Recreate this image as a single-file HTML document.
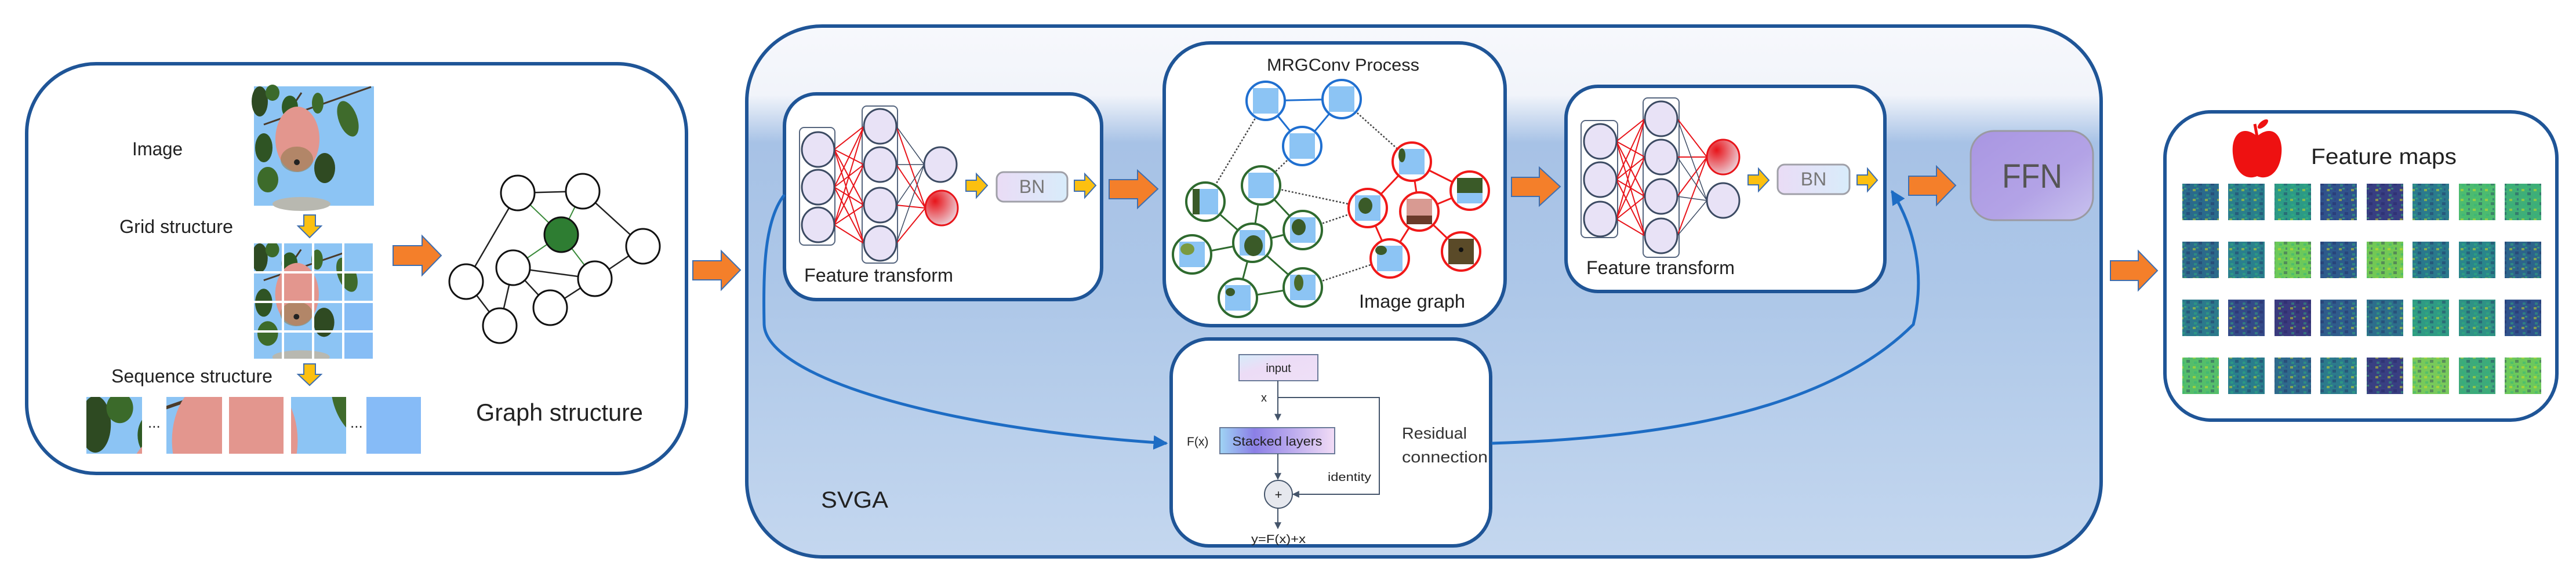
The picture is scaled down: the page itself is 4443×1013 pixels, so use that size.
<!DOCTYPE html>
<html><head><meta charset="utf-8"><style>
html,body{margin:0;padding:0;background:#fff;width:4443px;height:1013px;overflow:hidden;}
svg{display:block;}
text{font-family:"Liberation Sans",sans-serif;fill:#222;}
</style></head><body>
<svg width="4443" height="1013" viewBox="0 0 4443 1013" xmlns="http://www.w3.org/2000/svg" style="overflow:hidden">
<defs>
<linearGradient id="svga" x1="0" y1="0" x2="0" y2="1">
<stop offset="0" stop-color="#f7f8fc"/><stop offset="0.13" stop-color="#f1f4fa"/>
<stop offset="0.22" stop-color="#a7c2e6"/><stop offset="0.5" stop-color="#adc7e8"/>
<stop offset="1" stop-color="#c4d7ef"/></linearGradient>
<radialGradient id="redn" cx="0.3" cy="0.3" r="0.8"><stop offset="0" stop-color="#e8141a"/><stop offset="1" stop-color="#ecd6de"/></radialGradient>
<linearGradient id="bn" x1="0" y1="0" x2="1" y2="0"><stop offset="0" stop-color="#eadcf6"/><stop offset="1" stop-color="#d8ecfa"/></linearGradient>
<linearGradient id="ffn" x1="0" y1="0" x2="1" y2="1"><stop offset="0" stop-color="#a996e2"/><stop offset="0.6" stop-color="#b3a3e6"/><stop offset="1" stop-color="#c8c2ee"/></linearGradient>
<linearGradient id="inp" x1="0" y1="0" x2="1" y2="1"><stop offset="0" stop-color="#d6ecfa"/><stop offset="0.4" stop-color="#ecdcf6"/><stop offset="1" stop-color="#efe0f7"/></linearGradient>
<linearGradient id="stk" x1="0" y1="0" x2="1" y2="0"><stop offset="0" stop-color="#9fd4f4"/><stop offset="0.3" stop-color="#8b7fe6"/><stop offset="1" stop-color="#f2dcf6"/></linearGradient>
<pattern id="noise" width="21" height="17" patternUnits="userSpaceOnUse">
<rect x="2" y="3" width="5" height="4" fill="#d8e219" opacity="0.5"/><rect x="12" y="9" width="6" height="5" fill="#1f1d5a" opacity="0.35"/><rect x="8" y="1" width="4" height="3" fill="#3fbf70" opacity="0.5"/><rect x="15" y="2" width="3" height="4" fill="#2a3a80" opacity="0.4"/><rect x="4" y="12" width="5" height="4" fill="#2fb47c" opacity="0.45"/></pattern>
<marker id="ah" viewBox="0 0 10 10" refX="9" refY="5" markerWidth="5" markerHeight="5" orient="auto"><path d="M0,0 L10,5 L0,10 Z" fill="#1d6cc4"/></marker>
<marker id="ah2" viewBox="0 0 10 10" refX="9" refY="5" markerWidth="6" markerHeight="6" orient="auto"><path d="M0,0 L10,5 L0,10 Z" fill="#44546a"/></marker>
<g id="photo">
<rect x="438" y="149" width="207" height="206" fill="#8cc4f4"/>
<path d="M455,215 L640,150" stroke="#4a3a2a" stroke-width="3"/>
<path d="M480,220 L520,160" stroke="#4a3a2a" stroke-width="3"/>
<ellipse cx="448" cy="175" rx="14" ry="26" fill="#2e4a22"/>
<ellipse cx="470" cy="160" rx="12" ry="14" fill="#3b6a2a"/>
<ellipse cx="500" cy="185" rx="14" ry="20" fill="#2e5a24"/>
<ellipse cx="548" cy="178" rx="10" ry="18" fill="#3d6b2a"/>
<ellipse cx="600" cy="205" rx="16" ry="32" fill="#3f6b2c" transform="rotate(-20 600 205)"/>
<ellipse cx="455" cy="255" rx="15" ry="25" fill="#2f5424"/>
<ellipse cx="462" cy="310" rx="18" ry="22" fill="#3d6b2a"/>
<ellipse cx="560" cy="290" rx="18" ry="26" fill="#2f4a22"/>
<ellipse cx="513" cy="240" rx="38" ry="56" fill="#e3968e"/>
<ellipse cx="512" cy="275" rx="28" ry="22" fill="#8a7a48" opacity="0.55"/>
<circle cx="512" cy="280" r="5" fill="#222"/>
<ellipse cx="520" cy="352" rx="50" ry="12" fill="#b8b8b0"/>
</g>
</defs>

<!-- LEFT BOX -->
<rect x="46" y="110" width="1138" height="707" rx="120" fill="#fff" stroke="#1f5597" stroke-width="6"/>
<text x="228" y="268" font-size="32" textLength="87" lengthAdjust="spacingAndGlyphs">Image</text>
<use href="#photo"/>
<text x="206" y="402" font-size="32" textLength="196" lengthAdjust="spacingAndGlyphs">Grid structure</text>
<path d="M524,371 H544 V390 H554 L534,410 L514,390 H524Z" fill="#fcc010" stroke="#3f6fb0" stroke-width="2"/>
<svg x="438" y="420" width="205" height="199" viewBox="438 149 207 206" preserveAspectRatio="none"><use href="#photo"/></svg>
<g fill="#fff"><rect x="486" y="420" width="4" height="199"/><rect x="538" y="420" width="4" height="199"/><rect x="590" y="420" width="4" height="199"/>
<rect x="438" y="468" width="205" height="4"/><rect x="438" y="519" width="205" height="4"/><rect x="438" y="570" width="205" height="4"/></g>
<rect x="594" y="420" width="49" height="48" fill="#8cc4f4"/><rect x="594" y="523" width="49" height="47" fill="#86bdf5"/><rect x="594" y="574" width="49" height="45" fill="#86bdf5"/>
<text x="192" y="660" font-size="32" textLength="278" lengthAdjust="spacingAndGlyphs">Sequence structure</text>
<path d="M524,628 H544 V646 H554 L534,665 L514,646 H524Z" fill="#fcc010" stroke="#3f6fb0" stroke-width="2"/>
<svg x="149" y="685" width="96" height="98" viewBox="440 150 50 52" preserveAspectRatio="none"><use href="#photo"/></svg>
<text x="255" y="738" font-size="26">...</text>
<svg x="287" y="685" width="96" height="98" viewBox="470 200 50 52" preserveAspectRatio="none"><use href="#photo"/></svg>
<svg x="395" y="685" width="94" height="98" viewBox="488 200 50 52" preserveAspectRatio="none"><use href="#photo"/></svg>
<svg x="502" y="685" width="95" height="98" viewBox="545 200 50 52" preserveAspectRatio="none"><use href="#photo"/></svg>
<text x="604" y="738" font-size="26">...</text>
<rect x="632" y="685" width="94" height="98" fill="#86bbf7"/>
<path d="M678,424 H728 V407 L761,441 L728,475 V458 H678Z" fill="#f47f2a" stroke="#3f6fb0" stroke-width="2"/>
<!-- graph -->
<g stroke="#222" stroke-width="2.5">
<line x1="893" y1="333" x2="1005" y2="330"/><line x1="893" y1="333" x2="804" y2="486"/>
<line x1="1005" y1="330" x2="1109" y2="425"/><line x1="1109" y1="425" x2="1026" y2="481"/>
<line x1="885" y1="462" x2="1026" y2="481"/><line x1="885" y1="462" x2="862" y2="562"/>
<line x1="885" y1="462" x2="949" y2="531"/><line x1="804" y1="486" x2="862" y2="562"/>
<line x1="949" y1="531" x2="1026" y2="481"/></g>
<g stroke="#3a8a3a" stroke-width="2">
<line x1="893" y1="333" x2="968" y2="405"/><line x1="1005" y1="330" x2="968" y2="405"/>
<line x1="885" y1="462" x2="968" y2="405"/><line x1="1026" y1="481" x2="968" y2="405"/></g>
<g fill="#fff" stroke="#111" stroke-width="3">
<ellipse cx="893" cy="333" rx="29" ry="30"/><ellipse cx="1005" cy="330" rx="29" ry="30"/>
<ellipse cx="1109" cy="425" rx="29" ry="30"/><ellipse cx="885" cy="462" rx="29" ry="30"/>
<ellipse cx="804" cy="486" rx="29" ry="30"/><ellipse cx="1026" cy="481" rx="29" ry="30"/>
<ellipse cx="949" cy="531" rx="29" ry="30"/><ellipse cx="862" cy="562" rx="29" ry="30"/>
<ellipse cx="968" cy="405" rx="29" ry="30" fill="#2e7d32"/></g>
<text x="821" y="726" font-size="42" textLength="288" lengthAdjust="spacingAndGlyphs">Graph structure</text>
<path d="M1195,450 H1244 V433 L1277,466 L1244,500 V483 H1195Z" fill="#f47f2a" stroke="#3f6fb0" stroke-width="2"/>

<!-- SVGA -->
<rect x="1288" y="45" width="2336" height="916" rx="130" fill="url(#svga)" stroke="#1f5597" stroke-width="6"/>
<text x="1416" y="876" font-size="40" textLength="116" lengthAdjust="spacingAndGlyphs">SVGA</text>

<!-- FT box 1 -->
<rect x="1353" y="162" width="547" height="355" rx="55" fill="#fff" stroke="#1f5597" stroke-width="6"/>
<rect x="1379" y="220" width="61" height="203" rx="8" fill="none" stroke="#55657e" stroke-width="2"/>
<rect x="1487" y="183" width="61" height="271" rx="8" fill="none" stroke="#55657e" stroke-width="2"/>
<g stroke="#e8141a" stroke-width="2">
<path d="M1439,258 L1490,218 M1439,258 L1490,284 M1439,258 L1490,354 M1439,258 L1490,420 M1439,323 L1490,218 M1439,323 L1490,284 M1439,323 L1490,354 M1439,323 L1490,420 M1439,388 L1490,218 M1439,388 L1490,284 M1439,388 L1490,354 M1439,388 L1490,420"/>
<path d="M1546,218 L1596,359 M1546,284 L1596,359 M1546,354 L1596,359 M1546,420 L1596,359"/></g>
<g stroke="#3c4b63" stroke-width="1.5"><path d="M1546,218 L1594,284 M1546,284 L1594,284 M1546,354 L1594,284 M1546,420 L1594,284"/></g>
<g fill="#e8e2f6" stroke="#3c4b63" stroke-width="3">
<ellipse cx="1411" cy="258" rx="28" ry="30"/><ellipse cx="1411" cy="323" rx="28" ry="30"/><ellipse cx="1411" cy="388" rx="28" ry="30"/>
<ellipse cx="1518" cy="218" rx="28" ry="30"/><ellipse cx="1518" cy="284" rx="28" ry="30"/><ellipse cx="1518" cy="354" rx="28" ry="30"/><ellipse cx="1518" cy="420" rx="28" ry="30"/>
<ellipse cx="1622" cy="284" rx="28" ry="30"/></g>
<ellipse cx="1624" cy="359" rx="28" ry="30" fill="url(#redn)" stroke="#e8141a" stroke-width="3"/>
<path d="M1666,311 H1684 V300 L1703,320 L1684,341 V330 H1666Z" fill="#fcc010" stroke="#3f6fb0" stroke-width="2"/>
<rect x="1719" y="297" width="122" height="51" rx="12" fill="url(#bn)" stroke="#a0a0a8" stroke-width="3"/>
<text x="1780" y="333" font-size="32" text-anchor="middle" style="fill:#777">BN</text>
<path d="M1853,311 H1871 V300 L1890,320 L1871,341 V330 H1853Z" fill="#fcc010" stroke="#3f6fb0" stroke-width="2"/>
<text x="1387" y="486" font-size="32" textLength="257" lengthAdjust="spacingAndGlyphs">Feature transform</text>
<path d="M1913,310 H1962 V294 L1997,326 L1962,359 V343 H1913Z" fill="#f47f2a" stroke="#3f6fb0" stroke-width="2"/>

<!-- MRGConv -->
<rect x="2008" y="74" width="588" height="488" rx="80" fill="#fff" stroke="#1f5597" stroke-width="6"/>
<text x="2185" y="122" font-size="30" textLength="263" lengthAdjust="spacingAndGlyphs">MRGConv Process</text>
<g stroke="#444" stroke-width="2.5" stroke-dasharray="3,3">
<line x1="2183" y1="174" x2="2079" y2="348"/><line x1="2314" y1="171" x2="2435" y2="279"/>
<line x1="2246" y1="252" x2="2175" y2="320"/><line x1="2175" y1="320" x2="2359" y2="359"/>
<line x1="2247" y1="397" x2="2359" y2="359"/><line x1="2247" y1="496" x2="2397" y2="446"/></g>
<g stroke="#1f6fd0" stroke-width="3"><line x1="2183" y1="174" x2="2314" y2="171"/><line x1="2183" y1="174" x2="2246" y2="252"/><line x1="2314" y1="171" x2="2246" y2="252"/></g>
<g stroke="#2e6a2e" stroke-width="3">
<line x1="2079" y1="348" x2="2160" y2="419"/><line x1="2175" y1="320" x2="2160" y2="419"/><line x1="2175" y1="320" x2="2247" y2="397"/>
<line x1="2247" y1="397" x2="2160" y2="419"/><line x1="2056" y1="439" x2="2160" y2="419"/><line x1="2135" y1="514" x2="2160" y2="419"/>
<line x1="2247" y1="496" x2="2160" y2="419"/><line x1="2135" y1="514" x2="2247" y2="496"/></g>
<g stroke="#f01818" stroke-width="3">
<line x1="2435" y1="279" x2="2359" y2="359"/><line x1="2435" y1="279" x2="2535" y2="329"/><line x1="2435" y1="279" x2="2448" y2="365"/>
<line x1="2359" y1="359" x2="2397" y2="446"/><line x1="2448" y1="365" x2="2397" y2="446"/><line x1="2448" y1="365" x2="2535" y2="329"/><line x1="2448" y1="365" x2="2520" y2="434"/></g>
<g stroke-width="4" fill="#fff">
<g stroke="#1f6fd0"><circle cx="2183" cy="174" r="33"/><circle cx="2314" cy="171" r="33"/><circle cx="2246" cy="252" r="33"/></g>
<g stroke="#2e6a2e"><circle cx="2079" cy="348" r="33"/><circle cx="2175" cy="320" r="33"/><circle cx="2247" cy="397" r="33"/><circle cx="2160" cy="419" r="33"/><circle cx="2056" cy="439" r="33"/><circle cx="2135" cy="514" r="33"/><circle cx="2247" cy="496" r="33"/></g>
<g stroke="#f01818"><circle cx="2435" cy="279" r="33"/><circle cx="2535" cy="329" r="33"/><circle cx="2359" cy="359" r="33"/><circle cx="2448" cy="365" r="33"/><circle cx="2397" cy="446" r="33"/><circle cx="2520" cy="434" r="33"/></g></g>
<g fill="#8cc4f4">
<rect x="2161" y="152" width="44" height="44"/><rect x="2292" y="149" width="44" height="44"/><rect x="2224" y="230" width="44" height="44"/>
<rect x="2057" y="326" width="44" height="44"/><rect x="2153" y="298" width="44" height="44"/><rect x="2225" y="375" width="44" height="44"/><rect x="2138" y="397" width="44" height="44"/><rect x="2034" y="417" width="44" height="44"/><rect x="2113" y="492" width="44" height="44"/><rect x="2225" y="474" width="44" height="44"/>
<rect x="2413" y="257" width="44" height="44"/><rect x="2513" y="307" width="44" height="44"/><rect x="2337" y="337" width="44" height="44"/><rect x="2375" y="424" width="44" height="44"/></g>
<g fill="#3a5a28">
<rect x="2057" y="326" width="12" height="44"/><ellipse cx="2162" cy="424" rx="16" ry="18"/><ellipse cx="2048" cy="430" rx="12" ry="10" fill="#7a9a40"/><ellipse cx="2240" cy="488" rx="8" ry="14" fill="#4a6a2a"/><ellipse cx="2122" cy="504" rx="8" ry="7"/>
<ellipse cx="2240" cy="392" rx="12" ry="14"/><ellipse cx="2418" cy="268" rx="6" ry="12"/><ellipse cx="2355" cy="355" rx="12" ry="14"/><ellipse cx="2382" cy="432" rx="10" ry="8"/>
<rect x="2513" y="307" width="44" height="26"/><rect x="2498" y="412" width="44" height="44" fill="#5a4a28"/></g>
<rect x="2426" y="343" width="44" height="44" fill="#d89a92"/><rect x="2426" y="372" width="44" height="15" fill="#6a3a2a"/>
<circle cx="2520" cy="431" r="4" fill="#111"/>
<text x="2344" y="531" font-size="32" textLength="183" lengthAdjust="spacingAndGlyphs">Image graph</text>
<path d="M2607,306 H2655 V289 L2691,322 L2655,355 V339 H2607Z" fill="#f47f2a" stroke="#3f6fb0" stroke-width="2"/>

<!-- Residual box -->
<rect x="2020" y="585" width="551" height="357" rx="65" fill="#fff" stroke="#1f5597" stroke-width="6"/>
<rect x="2137" y="612" width="136" height="45" fill="url(#inp)" stroke="#6a7a98" stroke-width="2"/>
<text x="2205" y="642" font-size="20" text-anchor="middle">input</text>
<text x="2175" y="693" font-size="20">x</text>
<line x1="2204" y1="657" x2="2204" y2="725" stroke="#44546a" stroke-width="2" marker-end="url(#ah2)"/>
<path d="M2204,686 H2379 V853 H2230" fill="none" stroke="#44546a" stroke-width="2" marker-end="url(#ah2)"/>
<rect x="2104" y="738" width="198" height="45" fill="url(#stk)" stroke="#6a7a98" stroke-width="2"/>
<text x="2203" y="769" font-size="22" text-anchor="middle" textLength="155" lengthAdjust="spacingAndGlyphs">Stacked layers</text>
<text x="2047" y="769" font-size="21">F(x)</text>
<line x1="2204" y1="783" x2="2204" y2="827" stroke="#44546a" stroke-width="2" marker-end="url(#ah2)"/>
<circle cx="2205" cy="853" r="24" fill="#e6e8ee" stroke="#44546a" stroke-width="2"/>
<text x="2205" y="861" font-size="22" text-anchor="middle">+</text>
<line x1="2204" y1="877" x2="2204" y2="912" stroke="#44546a" stroke-width="2" marker-end="url(#ah2)"/>
<text x="2158" y="937" font-size="20" textLength="94" lengthAdjust="spacingAndGlyphs">y=F(x)+x</text>
<text x="2290" y="830" font-size="20" textLength="75" lengthAdjust="spacingAndGlyphs">identity</text>
<text x="2418" y="757" font-size="28" textLength="112" lengthAdjust="spacingAndGlyphs" style="fill:#333">Residual</text>
<text x="2418" y="798" font-size="28" textLength="148" lengthAdjust="spacingAndGlyphs" style="fill:#333">connection</text>

<!-- FT box 2 -->
<rect x="2701" y="149" width="550" height="354" rx="55" fill="#fff" stroke="#1f5597" stroke-width="6"/>
<rect x="2727" y="208" width="63" height="202" rx="8" fill="none" stroke="#55657e" stroke-width="2"/>
<rect x="2834" y="169" width="62" height="275" rx="8" fill="none" stroke="#55657e" stroke-width="2"/>
<g stroke="#e8141a" stroke-width="2">
<path d="M2788,244 L2837,205 M2788,244 L2837,271 M2788,244 L2837,339 M2788,244 L2837,407 M2788,310 L2837,205 M2788,310 L2837,271 M2788,310 L2837,339 M2788,310 L2837,407 M2788,378 L2837,205 M2788,378 L2837,271 M2788,378 L2837,339 M2788,378 L2837,407"/>
<path d="M2893,205 L2944,271 M2893,271 L2944,271 M2893,339 L2944,271 M2893,407 L2944,271"/></g>
<g stroke="#3c4b63" stroke-width="1.5"><path d="M2893,205 L2944,346 M2893,271 L2944,346 M2893,339 L2944,346 M2893,407 L2944,346"/></g>
<g fill="#e8e2f6" stroke="#3c4b63" stroke-width="3">
<ellipse cx="2760" cy="244" rx="28" ry="30"/><ellipse cx="2760" cy="310" rx="28" ry="30"/><ellipse cx="2760" cy="378" rx="28" ry="30"/>
<ellipse cx="2865" cy="205" rx="28" ry="30"/><ellipse cx="2865" cy="271" rx="28" ry="30"/><ellipse cx="2865" cy="339" rx="28" ry="30"/><ellipse cx="2865" cy="407" rx="28" ry="30"/>
<ellipse cx="2972" cy="346" rx="28" ry="30"/></g>
<ellipse cx="2972" cy="271" rx="28" ry="30" fill="url(#redn)" stroke="#e8141a" stroke-width="3"/>
<path d="M3015,302 H3033 V291 L3051,311 L3033,330 V319 H3015Z" fill="#fcc010" stroke="#3f6fb0" stroke-width="2"/>
<rect x="3066" y="284" width="124" height="51" rx="12" fill="url(#bn)" stroke="#a0a0a8" stroke-width="3"/>
<text x="3128" y="320" font-size="32" text-anchor="middle" style="fill:#777">BN</text>
<path d="M3203,302 H3221 V291 L3238,311 L3221,330 V319 H3203Z" fill="#fcc010" stroke="#3f6fb0" stroke-width="2"/>
<text x="2736" y="473" font-size="32" textLength="256" lengthAdjust="spacingAndGlyphs">Feature transform</text>
<path d="M3292,304 H3340 V287 L3373,320 L3340,354 V337 H3292Z" fill="#f47f2a" stroke="#3f6fb0" stroke-width="2"/>
<rect x="3399" y="226" width="211" height="154" rx="40" fill="url(#ffn)" stroke="#9a9aa2" stroke-width="3"/>
<text x="3505" y="324" font-size="58" text-anchor="middle" textLength="104" lengthAdjust="spacingAndGlyphs" style="fill:#555">FFN</text>

<path d="M1353,336 C1318,380 1316,470 1318,560 C1322,650 1620,740 2012,765" fill="none" stroke="#1d6cc4" stroke-width="5" marker-end="url(#ah)"/>
<path d="M2573,765 C2900,755 3160,700 3300,560 C3322,470 3300,390 3263,330" fill="none" stroke="#1d6cc4" stroke-width="5" marker-end="url(#ah)"/>

<path d="M3640,450 H3688 V433 L3721,467 L3688,501 V484 H3640Z" fill="#f47f2a" stroke="#3f6fb0" stroke-width="2"/>

<!-- Feature maps -->
<rect x="3734" y="193" width="676" height="532" rx="80" fill="#fff" stroke="#1f5597" stroke-width="6"/>
<path d="M3893,235 C3868,214 3848,232 3851,265 C3854,298 3874,312 3893,304 C3912,312 3932,298 3935,265 C3938,232 3918,214 3893,235Z" fill="#ee1111"/>
<path d="M3893,236 L3889,214" stroke="#ee1111" stroke-width="5"/>
<ellipse cx="3903" cy="214" rx="11" ry="5" fill="#ee1111" transform="rotate(-40 3903 214)"/>
<text x="3986" y="283" font-size="38" textLength="251" lengthAdjust="spacingAndGlyphs">Feature maps</text>
<g>
<rect x="3764" y="317" width="63" height="63" fill="#2a6a8c"/><rect x="3843" y="317" width="63" height="63" fill="#2a7e8c"/><rect x="3923" y="317" width="63" height="63" fill="#2c9a86"/><rect x="4002" y="317" width="63" height="63" fill="#30528c"/><rect x="4082" y="317" width="63" height="63" fill="#383e82"/><rect x="4161" y="317" width="63" height="63" fill="#2b7a8d"/><rect x="4241" y="317" width="63" height="63" fill="#4cbb70"/><rect x="4320" y="317" width="63" height="63" fill="#3fae78"/>
<rect x="3764" y="417" width="63" height="63" fill="#2c6a8b"/><rect x="3843" y="417" width="63" height="63" fill="#2a808d"/><rect x="3923" y="417" width="63" height="63" fill="#6cc95a"/><rect x="4002" y="417" width="63" height="63" fill="#2d5a8c"/><rect x="4082" y="417" width="63" height="63" fill="#72c855"/><rect x="4161" y="417" width="63" height="63" fill="#2a788c"/><rect x="4241" y="417" width="63" height="63" fill="#2a868b"/><rect x="4320" y="417" width="63" height="63" fill="#2d648b"/>
<rect x="3764" y="517" width="63" height="63" fill="#2c7a8c"/><rect x="3843" y="517" width="63" height="63" fill="#344a88"/><rect x="3923" y="517" width="63" height="63" fill="#3a3a7e"/><rect x="4002" y="517" width="63" height="63" fill="#2f5c8c"/><rect x="4082" y="517" width="63" height="63" fill="#2d6e8c"/><rect x="4161" y="517" width="63" height="63" fill="#2f9a84"/><rect x="4241" y="517" width="63" height="63" fill="#2f9285"/><rect x="4320" y="517" width="63" height="63" fill="#30528b"/>
<rect x="3764" y="617" width="63" height="63" fill="#55be6a"/><rect x="3843" y="617" width="63" height="63" fill="#2a7e8c"/><rect x="3923" y="617" width="63" height="63" fill="#2e6a8c"/><rect x="4002" y="617" width="63" height="63" fill="#2c7a8c"/><rect x="4082" y="617" width="63" height="63" fill="#393f82"/><rect x="4161" y="617" width="63" height="63" fill="#78c95a"/><rect x="4241" y="617" width="63" height="63" fill="#3eaa7a"/><rect x="4320" y="617" width="63" height="63" fill="#6cc85c"/>
</g>
<g fill="url(#noise)">
<rect x="3764" y="317" width="619" height="63"/><rect x="3764" y="417" width="619" height="63"/><rect x="3764" y="517" width="619" height="63"/><rect x="3764" y="617" width="619" height="63"/></g>
<g fill="#fff"><rect x="3827" y="310" width="16" height="380"/><rect x="3906" y="310" width="17" height="380"/><rect x="3986" y="310" width="16" height="380"/><rect x="4065" y="310" width="17" height="380"/><rect x="4145" y="310" width="16" height="380"/><rect x="4224" y="310" width="17" height="380"/><rect x="4304" y="310" width="16" height="380"/></g>
</svg>
</body></html>
